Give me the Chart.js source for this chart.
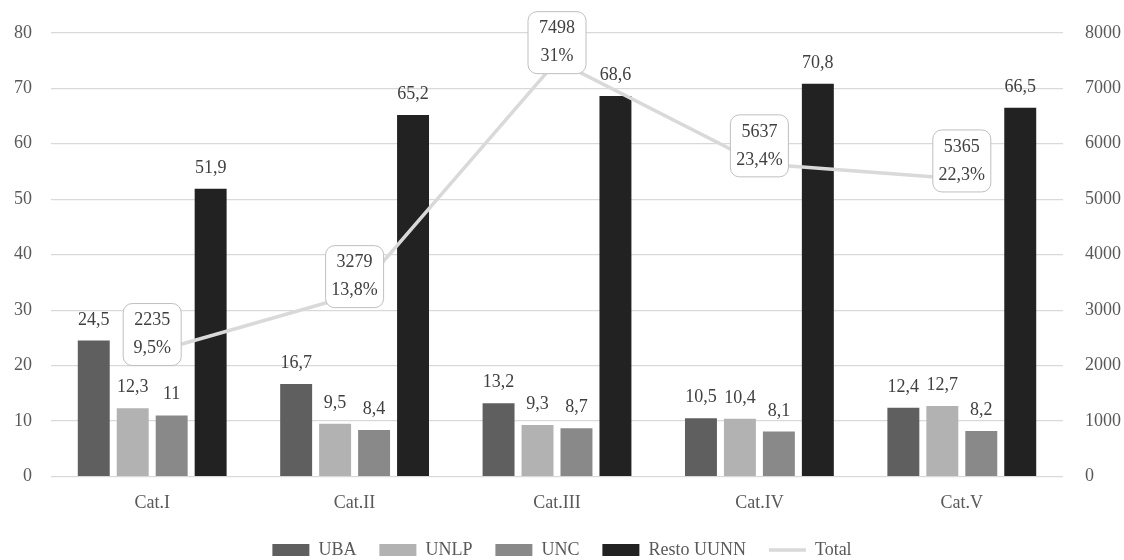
<!DOCTYPE html>
<html>
<head>
<meta charset="utf-8">
<script src="https://cdn.jsdelivr.net/npm/chart.js@4"></script>
<style>
  html, body { margin: 0; padding: 0; background: #fff; }
  #wrap { width: 1124px; height: 560px; }
</style>
</head>
<body>
<div id="wrap"><canvas id="graph"></canvas></div>
<script>
const categories = ["Cat.I", "Cat.II", "Cat.III", "Cat.IV", "Cat.V"];

const uba = [24.5, 16.7, 13.2, 10.5, 12.4];
const unlp = [12.3, 9.5, 9.3, 10.4, 12.7];
const unc = [11, 8.4, 8.7, 8.1, 8.2];
const restoUunn = [51.9, 65.2, 68.6, 70.8, 66.5];

const total = [2235, 3279, 7498, 5637, 5365];
const totalPct = [9.5, 13.8, 31, 23.4, 22.3];

const leftTicks = [0, 10, 20, 30, 40, 50, 60, 70, 80];
const rightTicks = [0, 1000, 2000, 3000, 4000, 5000, 6000, 7000, 8000];

const FONT = "'Liberation Serif', 'DejaVu Serif', serif";
const SIZE = 18;

const comma = (v) => String(v).replace(".", ",");

// value labels above the bars, boxed labels on the line
const labelsPlugin = {
    id: "labels",
    afterDatasetsDraw(chart) {
        const ctx = chart.ctx;
        ctx.save();
        ctx.font = SIZE + "px " + FONT;
        ctx.fillStyle = "#404040";
        ctx.textAlign = "center";

        chart.data.datasets.forEach((ds, i) => {
            if (ds.type === "line") return;
            const meta = chart.getDatasetMeta(i);
            meta.data.forEach((bar, j) => {
                ctx.textBaseline = "alphabetic";
                ctx.fillText(comma(ds.data[j]), bar.x, bar.y - 16);
            });
        });

        const lineIdx = chart.data.datasets.findIndex(d => d.type === "line");
        const meta = chart.getDatasetMeta(lineIdx);
        meta.data.forEach((pt, j) => {
            const w = 58, h = 62;
            const cx = pt.x, cy = pt.y - 18;
            ctx.beginPath();
            ctx.roundRect(cx - w / 2, cy - h / 2, w, h, 9);
            ctx.fillStyle = "#ffffff";
            ctx.fill();
            ctx.strokeStyle = "#bfbfbf";
            ctx.lineWidth = 1;
            ctx.stroke();
            ctx.fillStyle = "#404040";
            ctx.textBaseline = "middle";
            ctx.fillText(String(total[j]), cx, cy - 14);
            ctx.fillText(comma(totalPct[j]) + "%", cx, cy + 14);
        });
        ctx.restore();
    }
};

const barDs = (label, data, color) => ({
    type: "bar",
    label: label,
    data: data,
    backgroundColor: color,
    borderWidth: 0,
    yAxisID: "y",
    order: 1,
    categoryPercentage: 0.77,
    barPercentage: 0.82,
    pointStyle: "rect"
});

const data = {
    labels: categories,
    datasets: [
        barDs("UBA", uba, "#5f5f5f"),
        barDs("UNLP", unlp, "#b2b2b2"),
        barDs("UNC", unc, "#898989"),
        barDs("Resto UUNN", restoUunn, "#222222"),
        {
            type: "line",
            label: "Total",
            data: total,
            borderColor: "#d9d9d9",
            backgroundColor: "#d9d9d9",
            borderWidth: 3.5,
            pointRadius: 0,
            yAxisID: "y1",
            order: 0,
            pointStyle: "line"
        }
    ]
};

const config = {
    data: data,
    options: {
        responsive: true,
        maintainAspectRatio: false,
        animation: false,
        layout: { padding: { left: 0, right: 0, top: 32, bottom: -9 } },
        plugins: {
            tooltip: { enabled: false },
            legend: {
                position: "bottom",
                labels: {
                    font: { family: FONT, size: SIZE },
                    color: "#595959",
                    usePointStyle: true,
                    pointStyleWidth: 37,
                    boxHeight: 12,
                    padding: 23,
                    sort: (a, b) => a.datasetIndex - b.datasetIndex
                }
            }
        },
        scales: {
            x: {
                grid: { display: false },
                border: { display: false },
                ticks: { font: { family: FONT, size: SIZE }, color: "#595959", padding: 8 },
                afterFit: (axis) => { axis.height = 41.5; }
            },
            y: {
                position: "left",
                min: 0,
                max: 80,
                afterBuildTicks: (axis) => { axis.ticks = leftTicks.map(v => ({ value: v })); },
                afterFit: (axis) => { axis.width = 51; },
                grid: { color: "#d9d9d9", lineWidth: 1.2, drawTicks: false },
                border: { display: false },
                ticks: { font: { family: FONT, size: SIZE }, color: "#595959", padding: 19 }
            },
            y1: {
                position: "right",
                min: 0,
                max: 8000,
                afterBuildTicks: (axis) => { axis.ticks = rightTicks.map(v => ({ value: v })); },
                afterFit: (axis) => { axis.width = 61; },
                grid: { display: false, drawTicks: false },
                border: { display: false },
                ticks: {
                    font: { family: FONT, size: SIZE },
                    color: "#595959",
                    padding: 22,
                    callback: (v) => String(v)
                }
            }
        }
    },
    plugins: [labelsPlugin]
};

new Chart(document.querySelector("#graph"), config);
</script>
</body>
</html>
